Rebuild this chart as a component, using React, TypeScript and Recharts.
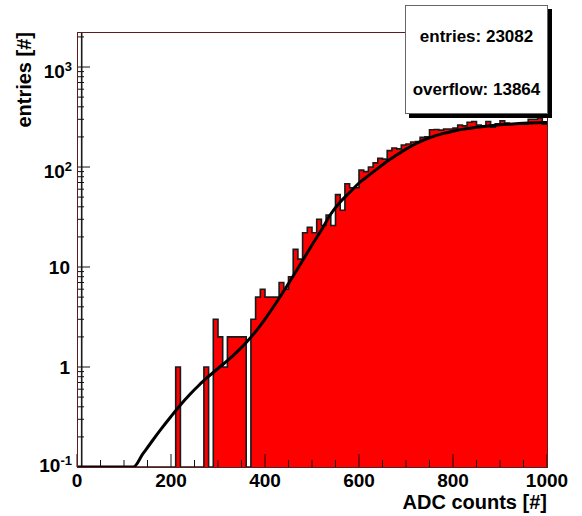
import React from "react";
import { ComposedChart, Area, Line, XAxis, YAxis } from "recharts";

// ADC histogram, 10 counts per bin, log y axis (ROOT style)
const X_MIN = 0;
const X_MAX = 1000;
const Y_MIN = 0.1;
const Y_MAX = 2240;
const BIN_WIDTH = 10;

// entries per bin (bin 0 is off scale)
const counts = [
  9000, 0, 0, 0, 0, 0, 0, 0, 0, 0,
  0, 0, 0, 0, 0, 0, 0, 0, 0, 0,
  0, 1, 0, 0, 0, 0, 0, 1, 0, 3,
  2, 1, 2, 2, 2, 2, 0, 3, 5, 6,
  5, 5, 5, 7, 6, 8, 15, 12, 22, 25,
  22, 30, 26, 33, 26, 53, 37, 68, 62, 62,
  93, 90, 100, 110, 122, 120, 146, 155, 152, 166,
  170, 178, 180, 198, 200, 236, 237, 234, 240, 240,
  245, 263, 258, 280, 285, 263, 258, 285, 250, 270,
  290, 275, 268, 268, 268, 268, 300, 300, 310, 268,
];

// fit curve
const fitX = [
  0, 120, 140, 160, 180, 200, 220, 240, 260, 280, 300, 320, 340, 360, 380,
  400, 420, 440, 460, 480, 500, 520, 540, 560, 580, 600, 620, 640, 660, 680,
  700, 720, 740, 760, 780, 800, 820, 840, 860, 880, 900, 920, 940, 960, 980,
  1000,
];
const fitY = [
  0.1, 0.1, 0.135, 0.182, 0.243, 0.32, 0.417, 0.531, 0.661, 0.804, 0.966,
  1.16, 1.41, 1.76, 2.26, 3.02, 4.12, 5.75, 8.13, 11.6, 16.6, 23.4, 33.9,
  44.7, 55.6, 69.2, 82, 97, 114, 132, 151, 170, 188, 204, 217, 228, 238, 246,
  253, 259, 264, 268, 272, 275, 277, 279,
];

const xTicks = [
  0, 50, 100, 150, 200, 250, 300, 350, 400, 450, 500, 550, 600, 650, 700, 750,
  800, 850, 900, 950, 1000,
];
const yTicks = [
  0.1, 0.2, 0.3, 0.4, 0.5, 0.6, 0.7, 0.8, 0.9,
  1, 2, 3, 4, 5, 6, 7, 8, 9,
  10, 20, 30, 40, 50, 60, 70, 80, 90,
  100, 200, 300, 400, 500, 600, 700, 800, 900,
  1000, 2000,
];
const statsLines = ["entries: 23082", "overflow: 13864"];
const xTitle = "ADC counts [#]";
const yTitle = "entries [#]";

const FONT = "'Liberation Sans', Arial, Helvetica, sans-serif";

// empty bins are drawn on the axis minimum like ROOT does
const outlineRows = counts
  .map((c, i) => ({ x: i * BIN_WIDTH, y: Math.max(c, Y_MIN) }))
  .concat([{ x: X_MAX, y: Math.max(counts[counts.length - 1], Y_MIN) }]);
// overflowing bins are not filled
const fillRows = outlineRows.map((r) => ({ x: r.x, y: r.y > Y_MAX ? Y_MIN : r.y }));
const fitRows = fitX.map((x, i) => ({ x, y: fitY[i] }));

function XTick(props: any) {
  const { x, y, payload } = props;
  const v = payload.value as number;
  const major = v % 200 === 0;
  return (
    <g>
      <line x1={x} x2={x} y1={y} y2={y - (major ? 13 : 7)} stroke="#111" strokeWidth={1} />
      {major && (
        <text x={x} y={y + 20} textAnchor="middle" fontFamily={FONT} fontWeight="bold" fontSize={19} fill="#000">
          {v}
        </text>
      )}
    </g>
  );
}

function YTick(props: any) {
  const { x, y, payload } = props;
  const v = payload.value as number;
  const lg = Math.log10(v);
  const e = Math.round(lg);
  const major = Math.abs(lg - e) < 1e-9;
  let label: React.ReactNode = null;
  if (major) {
    if (e === 0 || e === 1) {
      label = (
        <text x={x - 7} y={y + 7} textAnchor="end" fontFamily={FONT} fontWeight="bold" fontSize={19} fill="#000">
          {e === 0 ? "1" : "10"}
        </text>
      );
    } else {
      const base = v <= Y_MIN ? y + 5 : y + 11;
      label = (
        <text x={x - 5} y={base} textAnchor="end" fontFamily={FONT} fontWeight="bold" fontSize={19} fill="#000">
          <tspan>10</tspan>
          <tspan dy={-7} fontSize={13}>{String(e)}</tspan>
        </text>
      );
    }
  }
  return (
    <g>
      <line x1={x} x2={x + (major ? 13 : 7)} y1={y} y2={y} stroke="#111" strokeWidth={1} />
      {label}
    </g>
  );
}

export default function App() {
  return (
    <div style={{ position: "absolute", left: 0, top: 0, width: 582, height: 516, background: "#fff" }}>
      <ComposedChart
        width={582}
        height={516}
        margin={{ top: 32, right: 35, bottom: 0, left: 0 }}
      >
        <XAxis
          dataKey="x"
          type="number"
          domain={[X_MIN, X_MAX]}
          ticks={xTicks}
          interval={0}
          height={49}
          tickSize={0}
          tickMargin={0}
          tickLine={false}
          axisLine={false}
          tick={XTick}
          allowDataOverflow
          label={{
            content: (p: any) => {
              const vb = p.viewBox;
              return (
                <text x={vb.x + vb.width} y={vb.y + 42} textAnchor="end" fontFamily={FONT} fontWeight="bold" fontSize={20} fill="#000">
                  {xTitle}
                </text>
              );
            },
          }}
        />
        <YAxis
          type="number"
          scale="log"
          domain={[Y_MIN, Y_MAX]}
          ticks={yTicks}
          interval={0}
          width={77}
          tickSize={0}
          tickMargin={0}
          tickLine={false}
          axisLine={false}
          tick={YTick}
          allowDataOverflow
          label={{
            content: () => (
              <text
                x={31}
                y={32}
                transform="rotate(-90 31 32)"
                textAnchor="end"
                fontFamily={FONT}
                fontWeight="bold"
                fontSize={20}
                fill="#000"
              >
                {yTitle}
              </text>
            ),
          }}
        />
        <Area
          data={fillRows}
          dataKey="y"
          type="stepAfter"
          fill="#ff0000"
          fillOpacity={1}
          stroke="none"
          isAnimationActive={false}
        />
        <Line
          data={outlineRows}
          dataKey="y"
          type="stepAfter"
          stroke="#1a1a1a"
          strokeWidth={1.6}
          dot={false}
          isAnimationActive={false}
        />
        <Line
          data={fitRows}
          dataKey="y"
          type="monotone"
          stroke="#000"
          strokeWidth={3}
          dot={false}
          isAnimationActive={false}
        />
      </ComposedChart>
      <div
        style={{
          position: "absolute",
          left: 77,
          top: 32,
          width: 471,
          height: 436,
          boxSizing: "border-box",
          border: "1px solid #5e1c1c",
          pointerEvents: "none",
        }}
      />
      <div
        style={{
          position: "absolute",
          left: 405,
          top: 5,
          width: 143,
          height: 109,
          boxSizing: "border-box",
          border: "1px solid #666",
          background: "#fff",
          boxShadow: "4px 4px 0 #000",
          fontFamily: FONT,
          fontWeight: "bold",
          fontSize: 17,
          color: "#000",
        }}
      >
        {statsLines.map((s, i) => (
          <div
            key={s}
            style={{
              position: "absolute",
              left: 0,
              width: "100%",
              textAlign: "center",
              top: i === 0 ? 21 : 74,
              lineHeight: "20px",
              whiteSpace: "nowrap",
            }}
          >
            {s}
          </div>
        ))}
      </div>
    </div>
  );
}
